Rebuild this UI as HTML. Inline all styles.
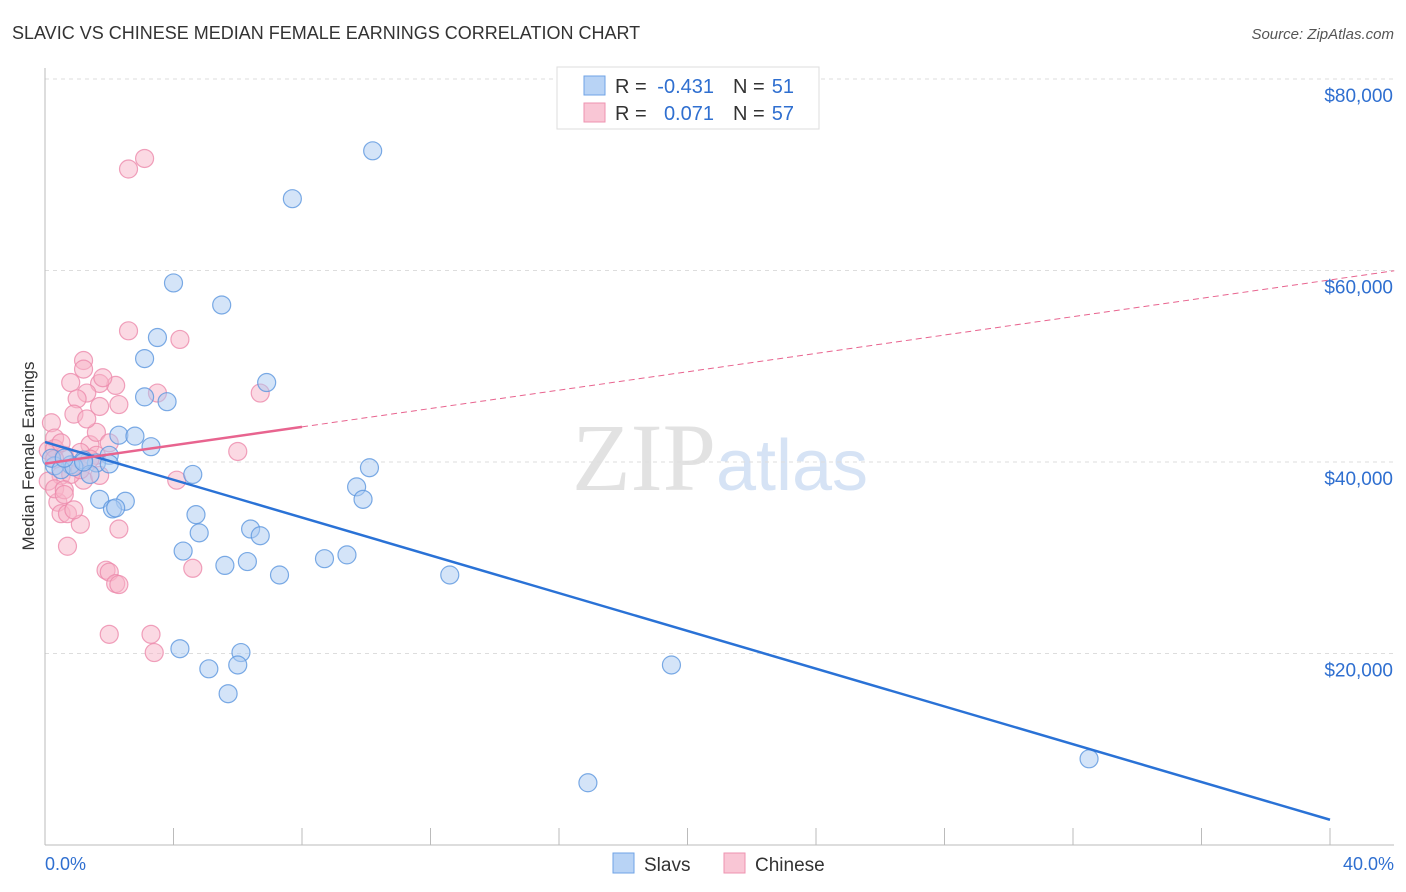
<!DOCTYPE html>
<html><head><meta charset="utf-8"><style>
body{margin:0;background:#fff;font-family:"Liberation Sans",sans-serif;}
svg{display:block}
</style></head><body>
<svg id="chart" width="1406" height="892" xmlns="http://www.w3.org/2000/svg">
<text x="12" y="39" font-size="18" fill="#333">SLAVIC VS CHINESE MEDIAN FEMALE EARNINGS CORRELATION CHART</text>
<text x="1394" y="39" font-size="15" fill="#555" text-anchor="end" font-style="italic">Source: ZipAtlas.com</text>
<text x="720" y="490" font-size="96" fill="#e2e2e2" text-anchor="middle" font-family="Liberation Serif">ZIP<tspan fill="#d6e3f5" font-family="Liberation Sans" font-size="72">atlas</tspan></text>
<text transform="translate(34,456) rotate(-90)" font-size="17" fill="#333" text-anchor="middle">Median Female Earnings</text>
<g id="grid"></g><g id="axes"></g><g id="pts"></g><g id="lines"></g>
<g>
<rect x="557" y="67" width="262" height="62" fill="#fff" stroke="#ddd"/>
<rect x="584" y="76" width="21" height="19" fill="#b8d3f5" stroke="#6fa3e6"/>
<rect x="584" y="103" width="21" height="19" fill="#f9c6d5" stroke="#ee93b0"/>
<text x="615" y="93" font-size="20" fill="#333">R =</text>
<text x="714" y="93" font-size="20" fill="#2f6fd0" text-anchor="end">-0.431</text>
<text x="733" y="93" font-size="20" fill="#333">N =</text>
<text x="794" y="93" font-size="20" fill="#2f6fd0" text-anchor="end">51</text>
<text x="615" y="120" font-size="20" fill="#333">R =</text>
<text x="714" y="120" font-size="20" fill="#2f6fd0" text-anchor="end">0.071</text>
<text x="733" y="120" font-size="20" fill="#333">N =</text>
<text x="794" y="120" font-size="20" fill="#2f6fd0" text-anchor="end">57</text>
</g>
<g>
<rect x="613" y="853" width="21" height="20" fill="#b8d3f5" stroke="#6fa3e6"/>
<text x="644" y="871" font-size="19" fill="#333">Slavs</text>
<rect x="724" y="853" width="21" height="20" fill="#f9c6d5" stroke="#ee93b0"/>
<text x="755" y="871" font-size="19" fill="#333">Chinese</text>
</g>
<text x="45" y="870" font-size="18" fill="#2f6fd0">0.0%</text>
<text x="1394" y="870" font-size="18" fill="#2f6fd0" text-anchor="end">40.0%</text>
</svg>
<script>
const yTicks=[20000,40000,60000,80000];
const yTickLabels=["$20,000","$40,000","$60,000","$80,000"];
const xTicks=[0,4,8,12,16,20,24,28,32,36,40];
const slavX=[10.2,7.7,4.0,5.5,3.5,3.1,6.9,3.1,3.8,2.3,2.8,3.3,2.0,1.6,1.2,0.8,0.3,0.2,1.4,4.6,10.1,9.7,9.9,1.7,2.5,2.1,2.2,4.7,4.8,6.4,6.7,4.3,6.3,5.6,7.3,8.7,9.4,12.6,4.2,6.1,5.1,6.0,5.7,19.5,32.5,16.9,0.5,0.9,1.2,0.6,2.0];
const slavY=[72500,67500,58700,56400,53000,50800,48300,46800,46300,42800,42700,41600,40700,39900,40200,39700,39600,40400,38700,38700,39400,37400,36100,36100,35900,35100,35200,34500,32600,33000,32300,30700,29600,29200,28200,29900,30300,28200,20500,20100,18400,18800,15800,18800,9000,6500,39200,39500,40000,40400,39800];
const chnX=[3.1,2.6,2.6,4.2,1.2,1.2,0.8,2.2,1.7,1.8,1.3,1.0,1.7,0.9,3.5,6.7,1.4,1.6,0.2,0.3,0.1,0.3,0.6,1.1,1.2,0.5,0.4,0.5,0.7,1.1,2.3,0.7,4.1,6.0,1.9,2.0,2.2,2.3,4.6,2.0,3.3,3.4,0.1,0.3,0.8,1.1,0.5,1.6,1.7,2.0,1.3,2.3,1.4,0.3,0.6,0.9,0.6];
const chnY=[71700,70600,53700,52800,50600,49700,48300,48000,48200,48800,47200,46600,45800,45000,47200,47200,41800,43100,44100,42500,41200,41400,40700,41000,38100,38600,35800,34600,34600,33500,33000,31200,38100,41100,28700,28500,27300,27200,28900,22000,22000,20100,38000,37200,38700,39200,42000,40700,38600,42000,44500,46000,40300,40300,37100,35000,36600];
const X=v=>45+v*32.125, Y=v=>845-v*0.009575;
const NS="http://www.w3.org/2000/svg";
function mk(p,t,a){const e=document.createElementNS(NS,t);for(const k in a)e.setAttribute(k,a[k]);document.getElementById(p).appendChild(e);return e;}
yTicks.forEach((v,i)=>{
 const g=mk('grid','line',{x1:45,x2:1394,y1:Y(v),y2:Y(v),stroke:'#ddd','stroke-dasharray':'4,4'});
 
 
 const t=mk('grid','text',{x:1393,y:Y(v)+23,'font-size':19,fill:'#2f6fd0','text-anchor':'end'});
 t.textContent=yTickLabels[i];
 
 
});
const ax=mk('axes','line',{x1:45,x2:45,y1:68,y2:845,stroke:'#bbb'});


const bx=mk('axes','line',{x1:45,x2:1394,y1:845,y2:845,stroke:'#bbb'});


xTicks.forEach(v=>{const l=mk('axes','line',{x1:X(v),x2:X(v),y1:828,y2:845,stroke:'#bbb'});
 
 });
function pts(xs,ys,fill,stroke,name){xs.forEach((x,i)=>{const c=mk('pts','circle',{cx:X(x),cy:Y(ys[i]),r:9,fill:fill,'fill-opacity':0.5,stroke:stroke,'stroke-opacity':0.8,'stroke-width':1.2});
 
 });}
pts(chnX,chnY,'#f7b3c8','#ec8aab','chinese-point');
pts(slavX,slavY,'#a9c9f1','#5b96df','slavs-point');
function fit(xs,ys){const n=xs.length,mx=xs.reduce((a,b)=>a+b)/n,my=ys.reduce((a,b)=>a+b)/n;let sxy=0,sxx=0;xs.forEach((x,i)=>{sxy+=(x-mx)*(ys[i]-my);sxx+=(x-mx)**2});const b=sxy/sxx;return [my-b*mx,b];}
const [sa,sb]=fit(slavX,slavY);
const l1=mk('lines','line',{x1:X(0),y1:Y(sa),x2:X(40),y2:Y(sa+sb*40),stroke:'#2a72d6','stroke-width':2.5});


const [ca,cb]=fit(chnX,chnY);
const l2=mk('lines','line',{x1:X(0),y1:Y(ca),x2:X(8),y2:Y(ca+cb*8),stroke:'#e8648f','stroke-width':2.5});


const l3=mk('lines','line',{x1:X(8),y1:Y(ca+cb*8),x2:X(42),y2:Y(ca+cb*42),stroke:'#e8648f','stroke-width':1,'stroke-dasharray':'6,4'});


</script>
</body></html>
